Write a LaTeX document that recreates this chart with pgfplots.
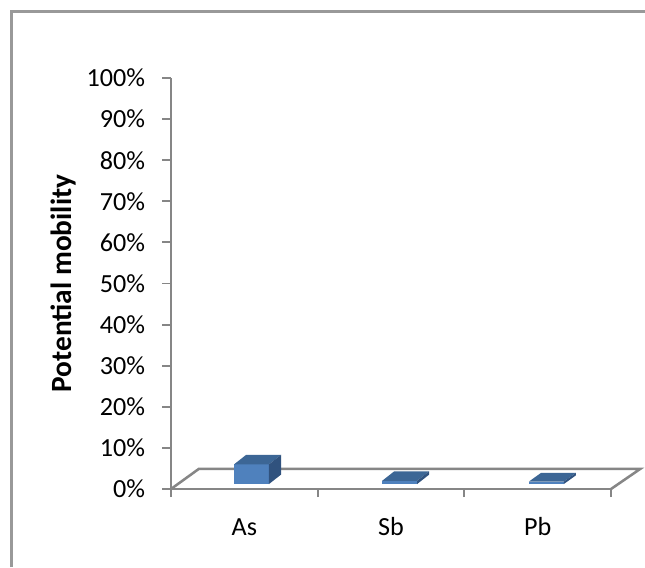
\documentclass[border=0pt]{standalone}
\usepackage{pgfplots}
\pgfplotsset{compat=1.18}
\usepackage{fontspec}
\setmainfont{Carlito}
\definecolor{axgray}{HTML}{868686}
\definecolor{framegray}{HTML}{999999}
\definecolor{barfront}{HTML}{4F81BD}
\definecolor{bartop}{HTML}{3C6695}
\definecolor{barside}{HTML}{30527E}
\begin{document}
\begin{tikzpicture}[x=0.75pt,y=0.75pt]
\path[use as bounding box,fill=white] (0,0) rectangle (645,567);
\draw[framegray,line width=1.6pt] (11.5,0) -- (11.5,555.5) -- (645,555.5);
\begin{axis}[
  at={(128.25pt,58.5pt)},anchor=south west,
  scale only axis,width=330pt,height=308.25pt,
  xmin=-0.5,xmax=2.5,ymin=0,ymax=100,
  clip=false,
  axis lines=left,
  axis line style={axgray,line width=1.9pt,-},
  every tick/.style={axgray,line width=1.4pt},
  xtick={0,1,2},xticklabels={As,Sb,Pb},
  minor xtick={-0.5,0.5,1.5,2.5},
  major x tick style={draw=none},
  ytick={0,10,...,100},
  yticklabels={0\%,10\%,20\%,30\%,40\%,50\%,60\%,70\%,80\%,90\%,100\%},
  tick align=outside,
  major tick length=6.5pt,
  minor tick length=6pt,
  tick label style={font=\fontsize{19.6}{22}\selectfont,black},
  yticklabel style={xshift=-9.5pt},
  xticklabel style={yshift=-11.5pt,text height=13pt,text depth=0pt},
  ylabel={\textbf{Potential mobility}},
  every axis y label/.style={at={(axis cs:-1.236,50)},rotate=90,anchor=center,font=\fontsize{22}{24}\selectfont,black},
]
% floor
\addplot[axgray,line width=1.9pt] coordinates {(-0.5,0) (-0.31,4.9) (2.7,4.9) (2.5,0)};
% As
\addplot[fill=barfront,draw=none] coordinates {(-0.07,1.2) (0.168,1.2) (0.168,6) (-0.07,6)} --cycle;
\addplot[fill=bartop,draw=none] coordinates {(-0.07,6) (0.168,6) (0.25,8.3) (0.012,8.3)} --cycle;
\addplot[fill=barside,draw=none] coordinates {(0.168,1.2) (0.25,3.5) (0.25,8.3) (0.168,6)} --cycle;
% Sb
\addplot[fill=barfront,draw=none] coordinates {(0.94,1.2) (1.178,1.2) (1.178,2) (0.94,2)} --cycle;
\addplot[fill=bartop,draw=none] coordinates {(0.94,2) (1.178,2) (1.26,4.3) (1.022,4.3)} --cycle;
\addplot[fill=barside,draw=none] coordinates {(1.178,1.2) (1.26,3.5) (1.26,4.3) (1.178,2)} --cycle;
% Pb
\addplot[fill=barfront,draw=none] coordinates {(1.94,1.2) (2.178,1.2) (2.178,1.8) (1.94,1.8)} --cycle;
\addplot[fill=bartop,draw=none] coordinates {(1.94,1.8) (2.178,1.8) (2.26,3.9) (2.022,3.9)} --cycle;
\addplot[fill=barside,draw=none] coordinates {(2.178,1.2) (2.26,3.3) (2.26,3.9) (2.178,1.8)} --cycle;
\end{axis}
\end{tikzpicture}
\end{document}
